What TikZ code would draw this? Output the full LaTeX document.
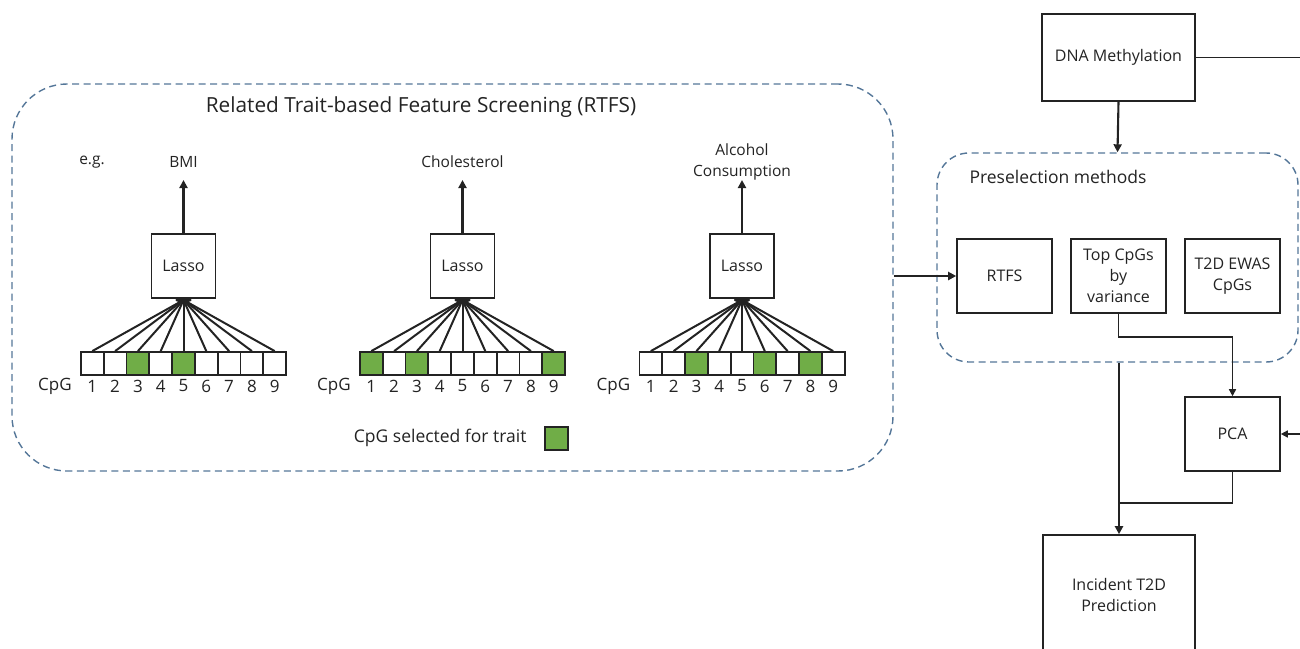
\documentclass[tikz,border=0pt]{standalone}
\usepackage{fontspec}
\setmainfont{Open Sans}
\usetikzlibrary{arrows.meta}
\definecolor{cpggreen}{RGB}{112,173,71}
\definecolor{groupblue}{RGB}{84,118,152}
\definecolor{ink}{RGB}{35,35,35}

% One Lasso unit: #1 prefix, #2 centre x, #3 trait label, #4 selected CpGs
\newcommand{\traitunit}[4]{%
  \node[box, minimum width=64pt, minimum height=64pt] (#1lasso) at (#2,266) {Lasso};
  \node[txt] (#1trait) at (#2,162) {#3};
  \coordinate (#1top) at (#2,180);
  \draw[arr] (#1lasso.north) -- (#1top);
  \foreach \i in {1,...,9} {
    \node[cell] (#1c\i) at ({#2+(\i-5)*22.8},363.5) {};
    \node[numtxt] (#1n\i) at ({#2+(\i-5)*22.8},386) {\i};
  }
  \foreach \i in {#4} {
    \node[cell, fill=cpggreen] (#1g\i) at (#1c\i) {};
  }
  \node[numtxt] (#1cpg) at ({#2-128.5},386) {CpG};
  \coordinate (#1hub) at (#2,300);
  \foreach \i in {1,...,9} {
    \draw[fan] (#1hub) -- (#1c\i.north);
  }
  \fill[ink] (#1hub) ellipse (8pt and 2.5pt);
}

\begin{document}
\begin{tikzpicture}[x=1pt, y=-1pt,
  txt/.style={text=ink, font=\fontsize{15.5}{21}\selectfont, align=center},
  numtxt/.style={text=ink, font=\fontsize{17}{20}\selectfont, inner sep=0pt},
  bigtxt/.style={text=ink, font=\fontsize{17.5}{21}\selectfont},
  box/.style={draw=ink, line width=1.6pt, fill=white, text=ink, align=center,
              font=\fontsize{16}{21}\selectfont, inner sep=2pt},
  cell/.style={draw=ink, line width=1.8pt, fill=white, minimum width=22.8pt,
               minimum height=23pt, inner sep=0pt},
  grouping/.style={draw=groupblue, line width=1.4pt, dash pattern=on 7pt off 4.5pt},
  arr/.style={draw=ink, line width=2.1pt, -{Triangle[length=8pt,width=8pt]}},
  arrsmall/.style={draw=ink, line width=1.5pt, -{Triangle[length=7pt,width=7pt]}},
  wire/.style={draw=ink, line width=1.5pt},
  fan/.style={draw=ink, line width=2pt}]

\useasboundingbox (0,0) rectangle (1300,648);

% ---- Related trait-based feature screening group ----
\node[grouping, rounded corners=55pt, minimum width=881pt, minimum height=387pt] (rtfsgroup) at (452.5,277.5) {};
\node[text=ink, font=\fontsize{20.8}{24}\selectfont] (rtfstitle) at (421,107) {Related Trait-based Feature Screening (RTFS)};
\node[txt] (eg) at (92,162) {e.g.};

\traitunit{a}{183.5}{BMI}{3,5}
\traitunit{b}{462.5}{Cholesterol}{1,3,9}
\traitunit{c}{742}{Alcohol\\Consumption}{3,6,8}

% legend
\node[bigtxt, anchor=east] (legtext) at (530,438) {CpG selected for trait};
\node[cell, fill=cpggreen] (legsq) at (556.5,438.5) {};

% ---- Right-hand pipeline ----
\node[box, minimum width=153pt, minimum height=87pt] (dna) at (1118.5,57.5) {DNA Methylation};
\node[grouping, rounded corners=32pt, minimum width=361pt, minimum height=209pt] (pre) at (1117.5,257.5) {};
\node[bigtxt, anchor=west] (pretitle) at (966,177) {Preselection methods};

\node[box, minimum width=95pt, minimum height=74pt] (rtfs) at (1004.5,276) {RTFS};
\node[box, minimum width=95pt, minimum height=74pt] (topcpg) at (1118.5,276) {Top CpGs\\by\\variance};
\node[box, minimum width=95pt, minimum height=74pt] (ewas) at (1232.5,276) {T2D EWAS\\CpGs};

\node[box, minimum width=95pt, minimum height=74pt] (pca) at (1232.5,434) {PCA};
\node[box, minimum width=152pt, minimum height=120pt] (inc) at (1119,595) {Incident T2D\\Prediction};

\coordinate (dnaout) at (1300,57.5);
\coordinate (pcain) at (1300,434);
\coordinate (bend) at (1118.5,337);
\coordinate (join) at (1119,503);

\draw[wire] (dna.east) -- (dnaout);
\draw[arr] (dna.south) -- (pre.north);
\draw[arr] (rtfsgroup.east |- rtfs.west) -- (rtfs.west);
\draw[arrsmall] (topcpg.south) -- (bend) -| (pca.north);
\draw[arrsmall] (pcain) -- (pca.east);
\draw[arr] (pre.south -| inc.north) -- (inc.north);
\draw[wire] (pca.south) |- (join);

\end{tikzpicture}
\end{document}
